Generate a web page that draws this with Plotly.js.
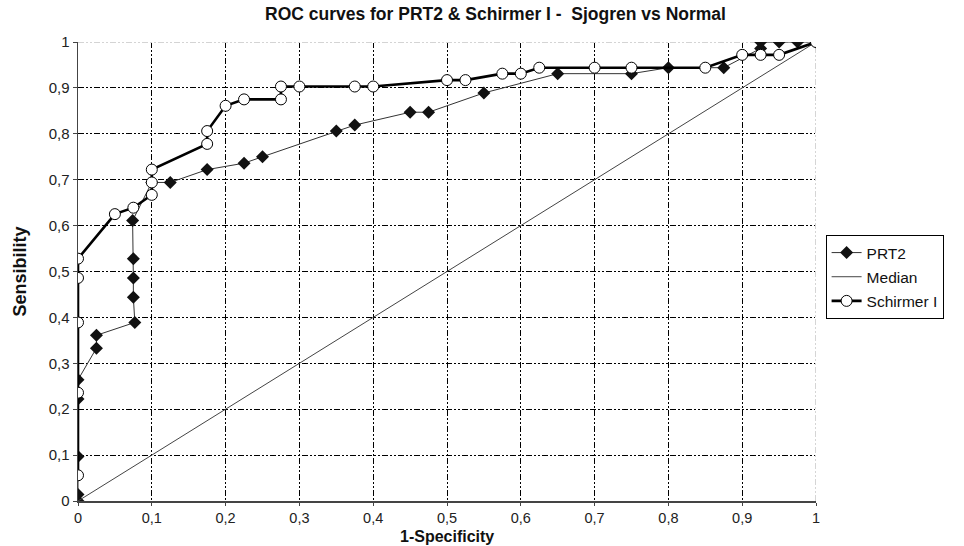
<!DOCTYPE html>
<html>
<head>
<meta charset="utf-8">
<script src="https://cdn.plot.ly/plotly-3.0.1.min.js"></script>
<style>html,body{margin:0;padding:0;background:#fff;}#chart{width:964px;height:546px;}</style>
</head>
<body>
<div id="chart"></div>
<script>
// ---- Data ----
const prt2X = [0, 0, 0, 0, 0, 0.025, 0.025, 0.077, 0.075, 0.075, 0.075, 0.074, 0.1, 0.125, 0.175, 0.225, 0.25, 0.35, 0.375, 0.45, 0.475, 0.55, 0.65, 0.75, 0.8, 0.875, 0.925, 0.925, 0.95, 0.975, 1];
const prt2Y = [0, 0.014, 0.097, 0.222, 0.264, 0.333, 0.361, 0.389, 0.444, 0.486, 0.528, 0.611, 0.694, 0.694, 0.722, 0.736, 0.75, 0.806, 0.819, 0.847, 0.847, 0.889, 0.931, 0.931, 0.944, 0.944, 0.986, 1, 1, 1, 1];

const medianX = [0, 1];
const medianY = [0, 1];

const schX = [0, 0, 0, 0, 0, 0.05, 0.075, 0.1, 0.1, 0.1, 0.175, 0.175, 0.2, 0.225, 0.275, 0.275, 0.3, 0.375, 0.4, 0.5, 0.525, 0.575, 0.6, 0.625, 0.7, 0.75, 0.85, 0.9, 0.925, 0.95, 1];
const schY = [0.056, 0.236, 0.389, 0.486, 0.528, 0.625, 0.639, 0.667, 0.694, 0.722, 0.778, 0.806, 0.861, 0.875, 0.875, 0.903, 0.903, 0.903, 0.903, 0.917, 0.917, 0.931, 0.931, 0.944, 0.944, 0.944, 0.944, 0.972, 0.972, 0.972, 1];

const tickVals = [0, 0.1, 0.2, 0.3, 0.4, 0.5, 0.6, 0.7, 0.8, 0.9, 1];
const tickLabels = ["0", "0,1", "0,2", "0,3", "0,4", "0,5", "0,6", "0,7", "0,8", "0,9", "1"];

const seriesNames = ["PRT2", "Median", "Schirmer I"];
const titleText = "ROC curves for PRT2 & Schirmer I -  Sjogren vs Normal";
const xTitle = "1-Specificity";
const yTitle = "Sensibility";

// ---- Chart ----
const FONT = "Liberation Sans, Arial, sans-serif";
const gridDash = "6px,2px,2px,2px,2px,2px";
const MB = 45, MT = 42, H = 546;
const plotH = H - MB - MT;

const traces = [
  {
    x: prt2X, y: prt2Y, name: seriesNames[0], type: "scatter", mode: "lines+markers",
    legendgroup: "g1",
    line: {color: "#333333", width: 1},
    marker: {symbol: "diamond", size: 10, color: "#111111", line: {width: 0}}
  },
  {
    x: medianX, y: medianY, name: seriesNames[1], type: "scatter", mode: "lines",
    legendgroup: "g2",
    line: {color: "#444444", width: 1}
  },
  {
    x: schX, y: schY, name: seriesNames[2], type: "scatter", mode: "lines+markers",
    legendgroup: "g3",
    line: {color: "#000000", width: 2.6},
    marker: {symbol: "circle", size: 11, color: "#ffffff", line: {color: "#000000", width: 1}}
  }
];

const axisCommon = {
  range: [0, 1],
  tickmode: "array",
  tickvals: tickVals,
  ticktext: tickLabels,
  showgrid: true,
  gridcolor: "#000000",
  gridwidth: 1,
  griddash: gridDash,
  zeroline: false,
  showline: true,
  linecolor: "#444444",
  linewidth: 1.5,
  ticks: "outside",
  ticklen: 4,
  tickcolor: "#444444",
  tickfont: {family: FONT, size: 15, color: "#222222"},
  automargin: false,
  fixedrange: true
};

const layout = {
  width: 964, height: H,
  margin: {l: 78, r: 148, t: MT, b: MB, pad: 0},
  paper_bgcolor: "#ffffff",
  plot_bgcolor: "#ffffff",
  title: {
    text: "<b>" + titleText + "</b>",
    font: {family: FONT, size: 17.5, color: "#111111"},
    x: 0.514, xanchor: "center", y: 0.975, yanchor: "middle"
  },
  xaxis: Object.assign({}, axisCommon, {
    ticklen: 3,
    tickfont: {family: FONT, size: 14.5, color: "#222222"}
  }),
  yaxis: Object.assign({}, axisCommon, {
    title: {text: "<b>" + yTitle + "</b>", font: {family: FONT, size: 18, color: "#111111"}, standoff: 17}
  }),
  annotations: [
    {
      text: "<b>" + xTitle + "</b>", xref: "paper", yref: "paper",
      x: 0.5, xanchor: "center", y: -MB / plotH, yanchor: "bottom",
      showarrow: false, borderpad: 0,
      font: {family: FONT, size: 16, color: "#111111"}
    }
  ],
  showlegend: true,
  legend: {
    x: 1.013, xanchor: "left", y: 0.488, yanchor: "middle",
    bordercolor: "#000000", borderwidth: 1,
    bgcolor: "#ffffff",
    font: {family: FONT, size: 15.5, color: "#111111"},
    itemwidth: 30,
    traceorder: "grouped",
    tracegroupgap: 1
  },
  shapes: [
    {type: "line", xref: "x", yref: "y", x0: 0, x1: 1, y0: 1, y1: 1, layer: "between", line: {color: "#ffffff", width: 2}},
    {type: "line", xref: "x", yref: "y", x0: 1, x1: 1, y0: 0, y1: 1, layer: "between", line: {color: "#ffffff", width: 2}},
    {type: "line", xref: "x", yref: "y", x0: 0, x1: 1, y0: 1, y1: 1, layer: "between", line: {color: "#aaaaaa", width: 1, dash: gridDash}},
    {type: "line", xref: "x", yref: "y", x0: 1, x1: 1, y0: 0, y1: 1, layer: "between", line: {color: "#aaaaaa", width: 1, dash: gridDash}}
  ]
};

Plotly.newPlot("chart", traces, layout, {displayModeBar: false, staticPlot: true});
</script>
</body>
</html>
